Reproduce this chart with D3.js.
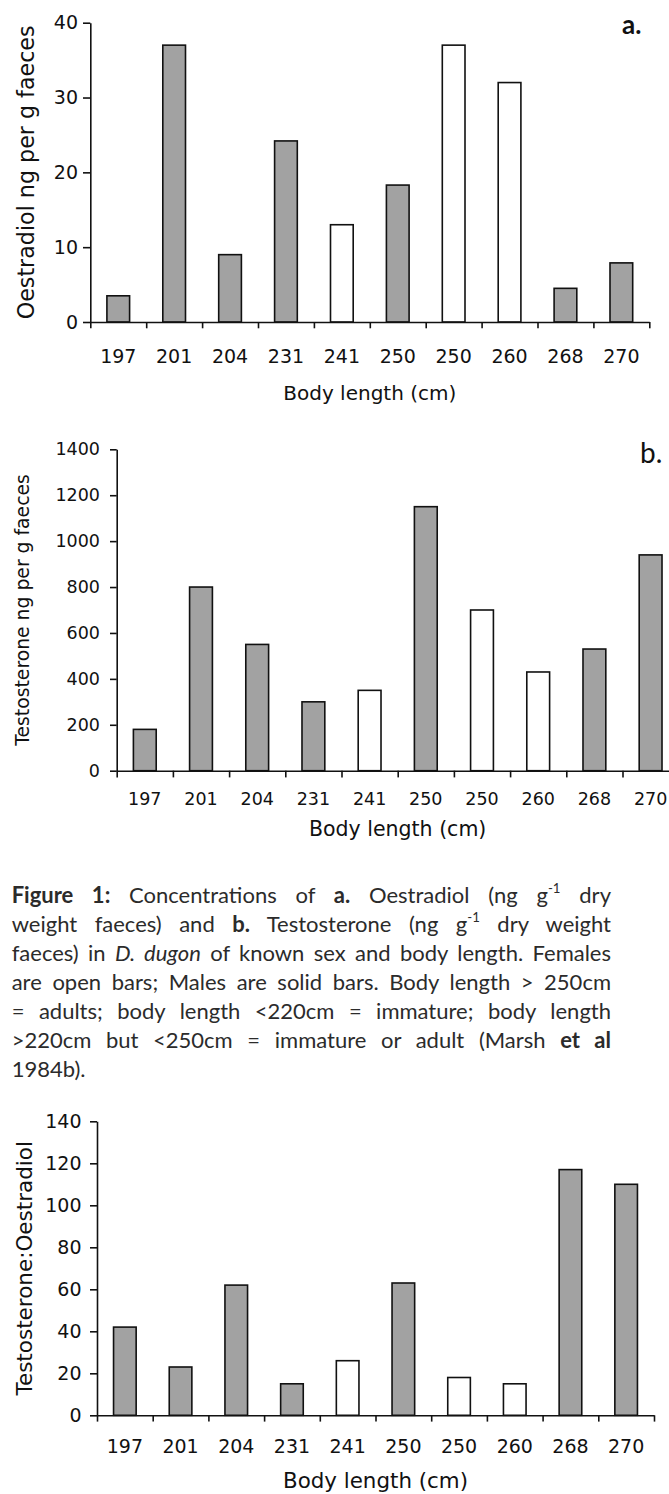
<!DOCTYPE html>
<html><head><meta charset="utf-8">
<script src="https://cdn.jsdelivr.net/npm/d3@7"></script>
<style>body{margin:0;background:#fff}svg{display:block}</style>
</head><body>
<script>
// ---- data ----
const lengths = ["197","201","204","231","241","250","250","260","268","270"];
const sex = ["M","M","M","M","F","M","F","F","M","M"];
const oestradiol = [3.5, 37, 9, 24.2, 13, 18.3, 37, 32, 4.5, 7.9];
const testosterone = [180, 800, 550, 300, 350, 1150, 700, 430, 530, 940];
const ratio = [42, 23, 62, 15, 26, 63, 18, 15, 117, 110];
const ticksA = [0, 10, 20, 30, 40];
const ticksB = [0, 200, 400, 600, 800, 1000, 1200, 1400];
const ticksC = [0, 20, 40, 60, 80, 100, 120, 140];
const xTitle = "Body length (cm)";
const titleA = "Oestradiol ng per g faeces";
const titleB = "Testosterone ng per g faeces";
const titleC = "Testosterone:Oestradiol";

const captionLines = [
  [["Figure 1:","b"],[" Concentrations of ",""],["a.","b"],[" Oestradiol (ng g",""],["-1","sup"],[" dry",""]],
  [["weight faeces) and ",""],["b.","b"],[" Testosterone (ng g",""],["-1","sup"],[" dry weight",""]],
  [["faeces) in ",""],["D. dugon","i"],[" of known sex and body length. Females",""]],
  [["are open bars; Males are solid bars. Body length > 250cm",""]],
  [["= adults; body length <220cm = immature; body length",""]],
  [[">220cm but <250cm = immature or adult (Marsh ",""],["et al","b"]],
  [["1984b).",""]]
];

const W = 669, H = 1494;
const svg = d3.select("body").append("svg").attr("width", W).attr("height", H);
const INK = "#111";
const TICKFONT = "'DejaVu Sans', Verdana, sans-serif";

function chart(c) {
  const g = svg.append("g").attr("transform", `translate(${c.left},${c.top})`);
  const n = lengths.length;
  const x = d3.scaleBand().domain(d3.range(n)).range([0, c.width])
      .paddingInner(0.594).paddingOuter(0.297);
  const slots = d3.scaleLinear().domain([0, n]).range([0, c.width]);
  const y = d3.scaleLinear().domain([0, c.max]).range([c.height, 0]);

  g.selectAll("rect.bar").data(c.values).join("rect").attr("class", "bar")
    .attr("x", (d, i) => x(i)).attr("width", x.bandwidth())
    .attr("y", d => y(d)).attr("height", d => y(0) - y(d))
    .attr("fill", (d, i) => sex[i] === "M" ? "#a2a2a2" : "#fff")
    .attr("stroke", INK).attr("stroke-width", 1.6);

  // boundary ticks + baseline
  const xb = g.append("g").attr("transform", `translate(0,${c.height})`)
    .call(d3.axisBottom(slots).tickValues(d3.range(n + 1)).tickFormat("")
      .tickSize(c.xtick).tickSizeOuter(0));
  // category labels
  const xl = g.append("g").attr("transform", `translate(0,${c.height})`)
    .call(d3.axisBottom(x).tickFormat(i => lengths[i]).tickSize(0).tickPadding(c.xpad));
  xl.select(".domain").remove();
  xl.selectAll("text").attr("font-family", TICKFONT).attr("font-size", c.fs).attr("fill", INK);

  const ya = g.append("g")
    .call(d3.axisLeft(y).tickValues(c.yticks).tickFormat(d3.format("d"))
      .tickSize(c.ytick).tickPadding(c.ypad).tickSizeOuter(0));
  ya.selectAll("text").attr("font-family", TICKFONT).attr("font-size", c.fs).attr("fill", INK);

  [xb, ya].forEach(a => {
    a.selectAll("path,line").attr("stroke", INK).attr("stroke-width", 1.6);
  });

  svg.append("text").attr("x", c.left + c.width / 2).attr("y", c.xtitleY)
    .attr("text-anchor", "middle").attr("font-family", TICKFONT)
    .attr("font-size", c.xtitleFs).attr("fill", INK).text(xTitle);

  svg.append("text")
    .attr("transform", `translate(${c.ytitleX},${c.top + c.height / 2}) rotate(-90)`)
    .attr("text-anchor", "middle").attr("font-family", TICKFONT)
    .attr("font-size", c.ytitleFs).attr("fill", INK).text(c.ytitle);
}

chart({left: 90.3, top: 22.7, width: 559, height: 299.3, max: 40, values: oestradiol,
  yticks: ticksA, fs: 19, xtick: 6.3, ytick: 7.3, xpad: 27.2, ypad: 5,
  xtitleY: 400, xtitleFs: 20, ytitleX: 34, ytitleFs: 22.2, ytitle: titleA});
chart({left: 116.7, top: 449.3, width: 562, height: 321.4, max: 1400, values: testosterone,
  yticks: ticksB, fs: 17.5, xtick: 6.7, ytick: 6.7, xpad: 21.9, ypad: 10,
  xtitleY: 836, xtitleFs: 20.5, ytitleX: 29, ytitleFs: 18.8, ytitle: titleB});
chart({left: 97, top: 1121.3, width: 557, height: 294, max: 140, values: ratio,
  yticks: ticksC, fs: 19, xtick: 6.3, ytick: 7, xpad: 24.5, ypad: 8.5,
  xtitleY: 1488, xtitleFs: 21.4, ytitleX: 31.7, ytitleFs: 21.5, ytitle: titleC});

// panel letters
svg.append("text").attr("x", 622).attr("y", 34).attr("font-family", "Lato, sans-serif")
  .attr("font-weight", "bold").attr("font-size", 26).attr("fill", INK).text("a.");
svg.append("text").attr("x", 640).attr("y", 463.3).attr("font-family", "Lato, sans-serif")
  .attr("font-size", 28).attr("fill", INK).text("b.");

// caption
const capLeft = 11.7, capRight = 611, capTop = 902.7, capLead = 29.1;
const cap = svg.append("g").attr("font-family", "Lato, 'Open Sans', sans-serif").attr("fill", "#2b2b2b");
let capFs = 22;
cap.attr("font-size", capFs);
const nodes = captionLines.map((segs, li) => {
  const t = cap.append("text").attr("x", capLeft).attr("y", capTop + li * capLead)
    .attr("xml:space", "preserve").style("white-space", "pre");
  let prevSup = false;
  segs.forEach(([s, st]) => {
    const ts = t.append("tspan").text(s);
    if (st === "b") ts.attr("font-weight", "bold");
    if (st === "i") ts.attr("font-style", "italic");
    if (st === "sup") { ts.attr("font-size", "0.6em").attr("dy", "-0.75em"); prevSup = true; }
    else if (prevSup) { ts.attr("dy", "0.45em"); prevSup = false; }
  });
  return t;
});
const maxW = d3.max(nodes, t => t.node().getComputedTextLength());
const target = capRight - capLeft;
if (maxW > target) { capFs = capFs * target / maxW * 0.995; cap.attr("font-size", capFs); }
nodes.forEach((t, li) => {
  if (li === nodes.length - 1) return;
  const w = t.node().getComputedTextLength();
  const txt = captionLines[li].map(s => s[0]).join("");
  const spaces = (txt.match(/ /g) || []).length;
  if (spaces > 0) t.attr("word-spacing", (target - w) / spaces);
});
</script>
</body></html>
